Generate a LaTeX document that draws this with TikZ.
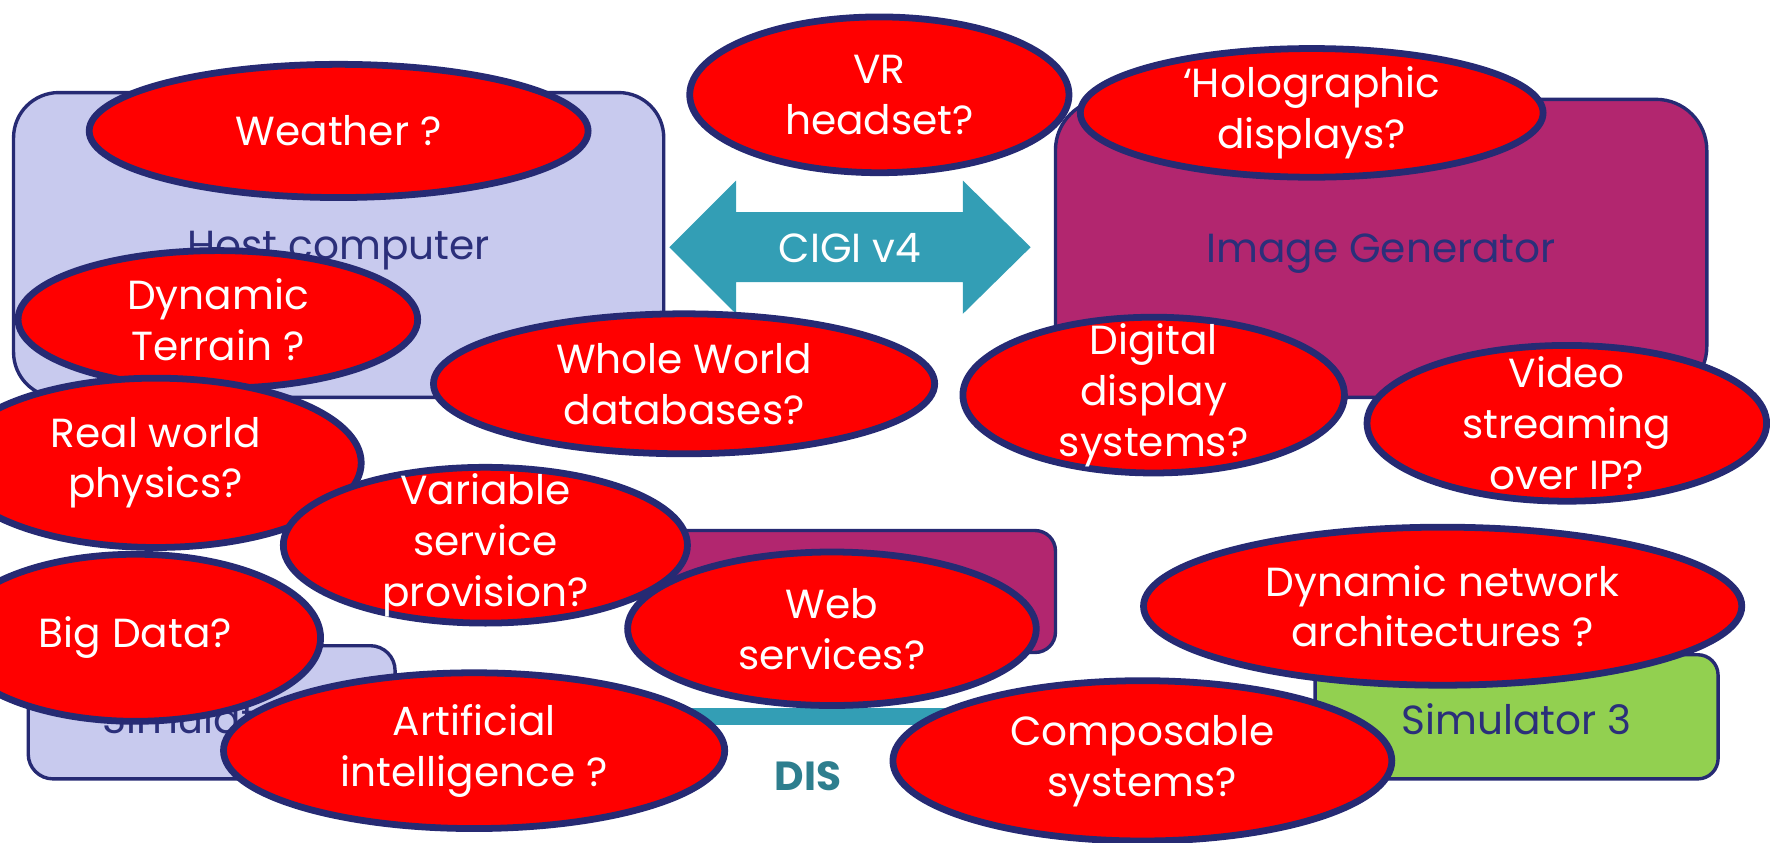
\documentclass[tikz,border=0pt]{standalone}
\usepackage{fontspec}
\setmainfont{Poppins}
\usetikzlibrary{shapes.geometric}

\definecolor{edgenavy}{HTML}{262A73}
\definecolor{labelnavy}{HTML}{2B2F7A}
\definecolor{lavender}{HTML}{C8CAEE}
\definecolor{plum}{HTML}{B2266F}
\definecolor{leaf}{HTML}{92D050}
\definecolor{bubblered}{HTML}{FF0000}
\definecolor{cigiteal}{HTML}{339EB5}
\definecolor{disteal}{HTML}{2E7E8E}

\tikzset{
  panel/.style={rectangle, draw=edgenavy, line width=3pt, inner sep=0pt},
  paneltext/.style={text=labelnavy, yshift=-5pt, font=\fontsize{36}{45}\selectfont},
  bubble/.style={ellipse, draw=edgenavy, line width=6pt, fill=bubblered, inner sep=0pt},
  bubbletext/.style={text=white, align=center, inner sep=0pt, font=\fontsize{36}{45}\selectfont},
}

\newcommand{\bubbleat}[6]{% name, x, y, rx, ry, text
  \node[bubble, minimum width=2*#4-2, minimum height=2*#5-2] (#1) at (#2,#3) {};
  \node[bubbletext] (#1-text) at (#1.center) {#6};
}

\begin{document}
\begin{tikzpicture}[x=1pt,y=-1pt]
\useasboundingbox (0,0) rectangle (1568,746);

% system panels
\node[panel, fill=lavender, rounded corners=40pt, minimum width=576, minimum height=270] (host) at (300,217) {};
\node[panel, fill=plum, rounded corners=45pt, minimum width=577, minimum height=264] (ig) at (1223.5,220) {};
\node[panel, fill=lavender, rounded corners=22pt, minimum width=325, minimum height=118] (sim1) at (187.5,631) {};
\node[panel, fill=plum, rounded corners=18pt, minimum width=350, minimum height=108] (sim2) at (760,524) {};
\node[panel, fill=leaf, rounded corners=18pt, minimum width=357, minimum height=110] (sim3) at (1343.5,635) {};

\node[paneltext] (hostlabel) at (host.center) {Host computer};
\node[paneltext] (iglabel) at (ig.center) {Image Generator};
\node[paneltext] (sim1label) at (sim1.center) {Simulator 1};
\node[paneltext, yshift=3pt] (sim3label) at (sim3.center) {Simulator 3};

% CIGI double arrow between host and image generator
\fill[cigiteal] (593,219) -- (652,160) -- (652,188) -- (853,188) -- (853,160)
  -- (913,219) -- (853,278) -- (853,250) -- (652,250) -- (652,278) -- cycle;
\node[text=white, font=\fontsize{36}{45}\selectfont] (cigi) at (753,220) {CIGI v4};

% DIS network bar
\draw[cigiteal, line width=15pt] (sim1.east |- sim3.west) -- (sim3.west);
\node[text=disteal, font=\fontsize{36}{45}\selectfont\bfseries] (dis) at (716,688) {DIS};

% question bubbles
\bubbleat{weather}{300}{116}{222}{60}{Weather ?}
\bubbleat{vr}{779}{84}{169}{70}{VR\\headset?}
\bubbleat{holo}{1162}{100}{206}{58}{‘Holographic\\displays?}
\bubbleat{terrain}{193}{283}{178}{62}{Dynamic\\Terrain ?}
\bubbleat{whole}{606}{340}{223}{63}{Whole World\\databases?}
\bubbleat{digital}{1022}{350}{170}{70}{Digital\\display\\systems?}
\bubbleat{video}{1388}{375}{178}{70}{Video\\streaming\\over IP?}
\bubbleat{physics}{138}{410}{183}{76}{Real world\\physics?}
\bubbleat{variable}{430}{483}{180}{70}{Variable\\service\\provision?}
\bubbleat{bigdata}{120}{565}{165}{75}{Big Data?}
\bubbleat{web}{737}{557}{182}{69}{Web\\services?}
\bubbleat{network}{1278}{537}{266}{71}{Dynamic network\\architectures ?}
\bubbleat{ai}{420}{665}{223}{70}{Artificial\\intelligence ?}
\bubbleat{composable}{1012}{674}{222}{72}{Composable\\systems?}
\end{tikzpicture}
\end{document}
